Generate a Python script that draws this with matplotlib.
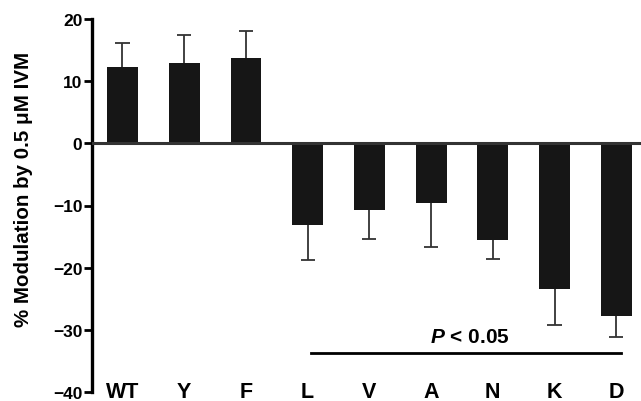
import matplotlib
matplotlib.use('Agg')
import matplotlib.pyplot as plt
import numpy as np

labels = ['WT', 'Y', 'F', 'L', 'V', 'A', 'N', 'K', 'D']
modulation = [12.2, 12.9, 13.8, -13.2, -10.8, -9.6, -15.6, -23.4, -27.8]
sem = [4.0, 4.6, 4.3, 5.6, 4.6, 7.1, 3.0, 5.8, 3.4]

plt.rcParams['font.family'] = ['Liberation Sans', 'DejaVu Sans']
plt.rcParams['font.weight'] = 'bold'
plt.rcParams['mathtext.fontset'] = 'custom'
plt.rcParams['mathtext.bfit'] = 'Liberation Sans:italic:bold'
plt.rcParams['mathtext.rm'] = 'Liberation Sans:bold'

fig = plt.figure(figsize=(6.41, 4.02), dpi=100)
ax = fig.add_axes([92 / 641, 9 / 402, 549 / 641, 373 / 402])

x = np.arange(len(labels))
vals = np.array(modulation)
err = np.array(sem)
tips = vals + np.sign(vals) * err

# one-sided error bars, stem hidden behind the bar
ax.vlines(x, vals, tips, color='#333333', lw=1.3, zorder=1)
ax.hlines(tips, x - 0.115, x + 0.115, color='#333333', lw=1.3, zorder=1)
ax.bar(x, vals, width=0.5, color='#161616', zorder=2)

# x axis drawn at zero
ax.axhline(0, color='#333333', lw=2.2, zorder=3)

ax.set_xlim(-0.494, 8.4)
ax.set_ylim(-40, 20)
ax.set_yticks([-40, -30, -20, -10, 0, 10, 20])
ax.tick_params(axis='y', length=6, width=2, labelsize=12.5, pad=1)
for t in ax.get_yticklabels():
    t.set_fontweight('bold')
ax.set_xticks([])

for s in ['top', 'right', 'bottom']:
    ax.spines[s].set_visible(False)
ax.spines['left'].set_linewidth(2.4)

for xi, lab in zip(x, labels):
    ax.text(xi, -38.2, lab, ha='center', va='top', fontsize=15.5,
            fontweight='bold', clip_on=False)

ax.set_ylabel('% Modulation by 0.5 \u03bcM IVM', fontsize=14.8,
              fontweight='bold')
ax.yaxis.set_label_coords(-59 / 549, 0.547)

# significance bar
ax.plot([3.06, 8.08], [-33.7, -33.7], color='black', lw=2, clip_on=False)
ax.text(5.63, -32.6, r'$\mathbfit{P}$ < 0.05', ha='center', va='bottom',
        fontsize=15, fontweight='bold')

fig.savefig('out.png', dpi=100)
